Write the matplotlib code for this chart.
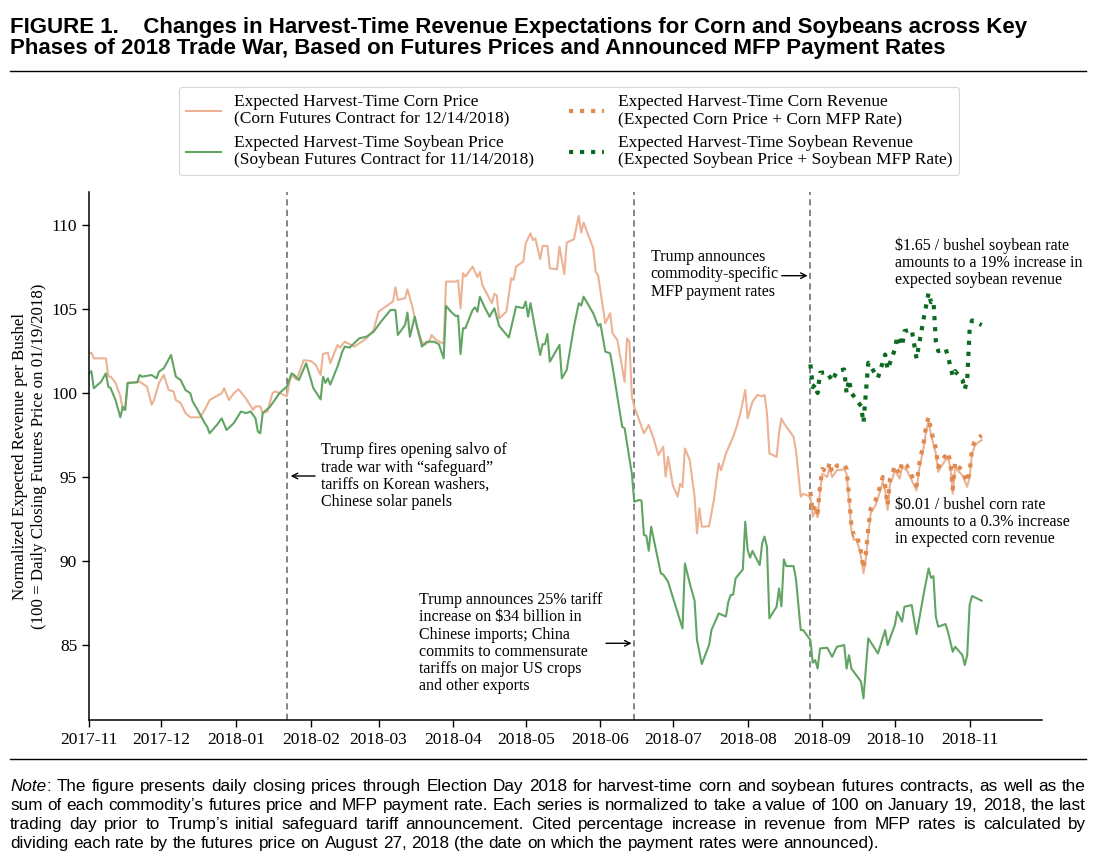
import matplotlib
matplotlib.use("Agg")
import matplotlib.pyplot as plt
import matplotlib.dates as mdates
from matplotlib.lines import Line2D
import pandas as pd

# ---- data (normalised, 100 = close on 2018-01-19) ----
corn_dates = [
    "2017-11-01", "2017-11-02", "2017-11-03", "2017-11-08", "2017-11-09", "2017-11-10", "2017-11-12",
    "2017-11-14", "2017-11-15", "2017-11-16", "2017-11-17", "2017-11-22", "2017-11-25", "2017-11-27",
    "2017-11-28", "2017-11-30", "2017-12-02", "2017-12-04", "2017-12-06", "2017-12-07", "2017-12-09",
    "2017-12-11", "2017-12-13", "2017-12-17", "2017-12-19", "2017-12-21", "2017-12-26", "2017-12-27",
    "2017-12-29", "2017-12-31", "2018-01-02", "2018-01-05", "2018-01-08", "2018-01-09", "2018-01-11",
    "2018-01-12", "2018-01-14", "2018-01-16", "2018-01-17", "2018-01-19", "2018-01-22", "2018-01-23",
    "2018-01-24", "2018-01-26", "2018-01-27", "2018-01-29", "2018-02-01", "2018-02-03", "2018-02-05",
    "2018-02-06", "2018-02-08", "2018-02-09", "2018-02-12", "2018-02-13", "2018-02-15", "2018-02-19",
    "2018-02-22", "2018-02-24", "2018-02-27", "2018-03-01", "2018-03-02", "2018-03-06", "2018-03-07",
    "2018-03-08", "2018-03-09", "2018-03-12", "2018-03-13", "2018-03-15", "2018-03-17", "2018-03-19",
    "2018-03-20", "2018-03-22", "2018-03-23", "2018-03-25", "2018-03-28", "2018-03-29", "2018-04-02",
    "2018-04-03", "2018-04-04", "2018-04-05", "2018-04-06", "2018-04-09", "2018-04-11", "2018-04-12",
    "2018-04-13", "2018-04-17", "2018-04-18", "2018-04-19", "2018-04-20", "2018-04-23", "2018-04-25",
    "2018-04-26", "2018-04-27", "2018-04-30", "2018-05-01", "2018-05-03", "2018-05-04", "2018-05-05",
    "2018-05-07", "2018-05-08", "2018-05-10", "2018-05-11", "2018-05-14", "2018-05-15", "2018-05-17",
    "2018-05-18", "2018-05-21", "2018-05-23", "2018-05-24", "2018-05-25", "2018-05-29", "2018-05-30",
    "2018-05-31", "2018-06-03", "2018-06-05", "2018-06-06", "2018-06-08", "2018-06-11", "2018-06-12",
    "2018-06-13", "2018-06-14", "2018-06-15", "2018-06-17", "2018-06-19", "2018-06-21", "2018-06-23",
    "2018-06-25", "2018-06-27", "2018-06-28", "2018-06-29", "2018-07-01", "2018-07-03", "2018-07-04",
    "2018-07-05", "2018-07-06", "2018-07-08", "2018-07-10", "2018-07-11", "2018-07-12", "2018-07-13",
    "2018-07-16", "2018-07-18", "2018-07-20", "2018-07-21", "2018-07-23", "2018-07-26", "2018-07-27",
    "2018-07-29", "2018-07-31", "2018-08-01", "2018-08-03", "2018-08-05", "2018-08-07", "2018-08-08",
    "2018-08-09", "2018-08-10", "2018-08-13", "2018-08-14", "2018-08-15", "2018-08-16", "2018-08-20",
    "2018-08-21", "2018-08-23", "2018-08-24", "2018-08-27", "2018-08-28", "2018-08-29", "2018-08-30",
    "2018-08-31", "2018-09-01", "2018-09-03", "2018-09-04", "2018-09-05", "2018-09-07", "2018-09-10",
    "2018-09-11", "2018-09-12", "2018-09-13", "2018-09-14", "2018-09-15", "2018-09-16", "2018-09-17",
    "2018-09-18", "2018-09-19", "2018-09-20", "2018-09-21", "2018-09-23", "2018-09-25", "2018-09-26",
    "2018-09-27", "2018-09-28", "2018-09-29", "2018-09-30", "2018-10-01", "2018-10-03", "2018-10-04",
    "2018-10-06", "2018-10-08", "2018-10-10", "2018-10-11", "2018-10-13", "2018-10-14", "2018-10-15",
    "2018-10-16", "2018-10-18", "2018-10-19", "2018-10-21", "2018-10-23", "2018-10-24", "2018-10-25",
    "2018-10-26", "2018-10-27", "2018-10-29", "2018-10-31", "2018-11-01", "2018-11-02", "2018-11-03",
    "2018-11-04", "2018-11-06",
]
corn_price = [
    102.36, 102.4, 102.06, 102.06, 101.0, 100.97, 100.6,
    99.8, 99.0, 99.0, 100.6, 100.67, 100.38, 99.3,
    99.6, 100.6, 101.07, 100.18, 100.1, 99.58, 99.4,
    98.8, 98.55, 98.55, 99.0, 99.58, 99.98, 100.28,
    99.58, 99.98, 100.22, 99.68, 99.0, 99.2, 99.2,
    98.8, 98.9, 99.98, 100.1, 100.0, 99.8, 100.6,
    101.07, 100.8, 101.17, 101.95, 101.9, 101.67, 101.07,
    102.32, 102.4, 101.77, 102.86, 102.7, 103.05, 102.76,
    103.05, 103.25, 103.75, 104.84, 104.94, 105.34, 105.44,
    106.29, 105.54, 105.64, 106.17, 105.14, 103.85, 103.05,
    102.86, 103.05, 103.45, 103.15, 102.92, 106.63, 106.63,
    106.7, 105.04, 107.12, 106.93, 107.52, 106.9, 107.2,
    106.43, 105.34, 105.9, 105.8, 104.44, 104.84, 106.83,
    106.73, 107.52, 107.82, 108.91, 109.5, 109.1, 109.2,
    107.96, 108.75, 108.75, 107.42, 107.36, 108.71, 107.08,
    108.95, 109.15, 110.54, 109.54, 110.14, 108.61, 107.22,
    107.0, 104.15, 104.74, 103.55, 103.15, 100.67, 103.25,
    103.05, 99.78, 99.18, 98.4, 97.6, 98.1, 97.3,
    96.3, 96.8, 95.02, 96.2, 94.5, 93.83, 94.6,
    94.4, 96.7, 96.0, 93.83, 91.65, 93.14, 92.04,
    92.07, 93.63, 95.81, 95.4, 96.4, 97.4, 97.8,
    98.8, 100.18, 98.49, 99.48, 99.88, 99.8, 99.88,
    98.8, 96.4, 96.2, 97.6, 98.49, 98.2, 97.4,
    96.6, 93.83, 94.0, 93.83, 92.64, 93.0, 92.6,
    94.2, 95.2, 95.0, 95.6, 95.0, 95.4, 95.46,
    95.2, 93.63, 91.85, 91.25, 91.3, 90.85, 90.26,
    89.27, 90.16, 91.65, 92.84, 93.33, 94.2, 94.72,
    94.2, 93.04, 94.6, 94.9, 95.4, 94.9, 95.6,
    95.4, 94.8, 94.2, 95.4, 96.8, 97.8, 98.29,
    97.5, 96.41, 95.31, 95.8, 96.2, 95.6, 94.0,
    95.6, 95.4, 95.1, 94.42, 95.0, 96.41, 96.8,
    97.0, 97.2,
]

soy_dates = [
    "2017-11-01", "2017-11-02", "2017-11-03", "2017-11-06", "2017-11-08", "2017-11-09", "2017-11-10",
    "2017-11-12", "2017-11-14", "2017-11-15", "2017-11-16", "2017-11-17", "2017-11-21", "2017-11-22",
    "2017-11-23", "2017-11-27", "2017-11-29", "2017-11-30", "2017-12-02", "2017-12-05", "2017-12-07",
    "2017-12-09", "2017-12-11", "2017-12-13", "2017-12-14", "2017-12-16", "2017-12-19", "2017-12-20",
    "2017-12-21", "2017-12-24", "2017-12-26", "2017-12-28", "2017-12-31", "2018-01-03", "2018-01-05",
    "2018-01-07", "2018-01-09", "2018-01-10", "2018-01-11", "2018-01-12", "2018-01-15", "2018-01-17",
    "2018-01-19", "2018-01-22", "2018-01-24", "2018-01-25", "2018-01-27", "2018-01-30", "2018-02-02",
    "2018-02-05", "2018-02-06", "2018-02-07", "2018-02-08", "2018-02-09", "2018-02-12", "2018-02-14",
    "2018-02-15", "2018-02-17", "2018-02-21", "2018-02-24", "2018-02-27", "2018-03-02", "2018-03-06",
    "2018-03-08", "2018-03-09", "2018-03-12", "2018-03-13", "2018-03-14", "2018-03-16", "2018-03-19",
    "2018-03-21", "2018-03-24", "2018-03-26", "2018-03-28", "2018-03-29", "2018-03-31", "2018-04-02",
    "2018-04-03", "2018-04-04", "2018-04-05", "2018-04-06", "2018-04-09", "2018-04-10", "2018-04-11",
    "2018-04-12", "2018-04-14", "2018-04-16", "2018-04-18", "2018-04-20", "2018-04-22", "2018-04-24",
    "2018-04-25", "2018-04-27", "2018-04-30", "2018-05-01", "2018-05-02", "2018-05-03", "2018-05-05",
    "2018-05-07", "2018-05-08", "2018-05-09", "2018-05-10", "2018-05-11", "2018-05-13", "2018-05-15",
    "2018-05-16", "2018-05-18", "2018-05-21", "2018-05-23", "2018-05-24", "2018-05-25", "2018-05-29",
    "2018-05-31", "2018-06-01", "2018-06-03", "2018-06-05", "2018-06-06", "2018-06-08", "2018-06-10",
    "2018-06-11", "2018-06-14", "2018-06-15", "2018-06-17", "2018-06-18", "2018-06-19", "2018-06-20",
    "2018-06-21", "2018-06-22", "2018-06-26", "2018-06-27", "2018-06-29", "2018-07-02", "2018-07-05",
    "2018-07-06", "2018-07-08", "2018-07-10", "2018-07-11", "2018-07-13", "2018-07-16", "2018-07-17",
    "2018-07-20", "2018-07-23", "2018-07-24", "2018-07-25", "2018-07-26", "2018-07-27", "2018-07-30",
    "2018-07-31", "2018-08-01", "2018-08-02", "2018-08-03", "2018-08-06", "2018-08-07", "2018-08-08",
    "2018-08-09", "2018-08-10", "2018-08-13", "2018-08-14", "2018-08-15", "2018-08-16", "2018-08-17",
    "2018-08-20", "2018-08-21", "2018-08-23", "2018-08-24", "2018-08-27", "2018-08-28", "2018-08-29",
    "2018-08-30", "2018-08-31", "2018-09-03", "2018-09-05", "2018-09-07", "2018-09-10", "2018-09-11",
    "2018-09-12", "2018-09-13", "2018-09-17", "2018-09-18", "2018-09-20", "2018-09-24", "2018-09-27",
    "2018-09-28", "2018-10-01", "2018-10-02", "2018-10-04", "2018-10-05", "2018-10-08", "2018-10-10",
    "2018-10-13", "2018-10-15", "2018-10-16", "2018-10-17", "2018-10-18", "2018-10-19", "2018-10-22",
    "2018-10-23", "2018-10-25", "2018-10-26", "2018-10-29", "2018-10-30", "2018-10-31", "2018-11-01",
    "2018-11-02", "2018-11-06",
]
soy_price = [
    101.17, 101.3, 100.28, 100.67, 101.17, 100.38, 100.28,
    99.58, 98.55, 99.18, 99.0, 100.6, 100.63, 101.07,
    100.97, 101.07, 100.87, 101.27, 101.47, 102.26, 100.97,
    100.77, 100.18, 99.98, 99.48, 99.0, 98.2, 97.99,
    97.6, 98.1, 98.49, 97.8, 98.2, 98.9, 98.8,
    98.9, 98.49, 97.7, 97.6, 98.8, 99.18, 99.58,
    100.0, 100.38, 101.17, 101.07, 100.77, 101.77, 100.28,
    99.62, 100.97, 100.6, 100.87, 100.5, 101.57, 102.46,
    102.76, 102.7, 103.25, 103.35, 103.65, 104.24, 104.94,
    104.94, 103.45, 104.05, 104.78, 103.35, 104.54, 102.76,
    103.05, 103.05, 102.9, 102.06, 105.18, 104.84, 104.58,
    104.6, 102.32, 103.85, 103.85, 104.94, 105.1, 104.84,
    105.73, 105.1, 104.54, 105.04, 103.99, 103.65, 103.3,
    103.9, 105.14, 105.05, 105.44, 104.54, 105.35, 103.75,
    102.26, 102.9, 102.9, 103.51, 101.86, 102.36, 102.86,
    100.87, 101.37, 103.95, 105.34, 105.2, 105.73, 104.74,
    104.0, 104.1, 102.46, 102.36, 101.57, 99.78, 97.99,
    97.9, 95.2, 93.53, 93.63, 93.6, 91.55, 91.5,
    90.61, 92.04, 89.27, 89.2, 88.77, 87.38, 85.99,
    89.86, 88.67, 87.64, 85.3, 83.87, 85.0, 85.89,
    86.88, 86.7, 87.58, 87.98, 88.0, 88.97, 89.5,
    92.34, 90.66, 90.2, 90.6, 89.76, 91.05, 91.45,
    90.85, 86.59, 87.28, 88.37, 87.3, 90.1, 89.7,
    89.7, 88.97, 85.89, 85.89, 85.3, 83.95, 84.1,
    83.6, 84.8, 84.84, 84.3, 84.9, 85.0, 83.6,
    84.4, 83.6, 82.82, 81.83, 85.4, 84.5, 85.89,
    85.0, 86.19, 86.98, 86.4, 87.28, 87.38, 85.65,
    88.07, 89.56, 89.0, 89.1, 86.68, 86.09, 86.25,
    85.8, 84.6, 84.9, 84.4, 83.81, 84.4, 87.38,
    87.92, 87.64,
]

# MFP payment rates announced 2018-08-27, as a shift in normalised units
mfp_date = "2018-08-27"
corn_mfp_shift = 0.28    # $0.01 / bushel
soy_mfp_shift = 16.4     # $1.65 / bushel

event_dates = ["2018-01-22", "2018-06-15", "2018-08-27"]

month_ticks = pd.date_range("2017-11-01", "2018-11-01", freq="MS")

corn = pd.Series(corn_price, index=pd.to_datetime(corn_dates))
soy = pd.Series(soy_price, index=pd.to_datetime(soy_dates))
corn_rev = corn[corn.index >= mfp_date] + corn_mfp_shift
soy_rev = soy[soy.index >= mfp_date] + soy_mfp_shift

# ---- figure ----
SERIF = ["Liberation Serif", "DejaVu Serif"]
SANS = ["Liberation Sans", "DejaVu Sans"]
plt.rcParams["font.family"] = SERIF

W, H = 1096, 861
fig = plt.figure(figsize=(W / 100, H / 100), dpi=100)
ax = fig.add_axes([89 / W, 1 - 720 / H, (1042 - 89) / W, (720 - 192) / H])

c_corn = "#ecb294"
c_soy = "#62a463"
c_corn_rev = "#e08a52"
c_soy_rev = "#0b6a1f"

l1, = ax.plot(corn.index, corn.values, color=c_corn, lw=1.5)
l2, = ax.plot(soy.index, soy.values, color=c_soy, lw=1.5)
for d in event_dates:
    ax.axvline(pd.Timestamp(d), color="#858585", lw=1.4, ls=(0, (3.2, 2.2)), zorder=1)
l3, = ax.plot(corn_rev.index, corn_rev.values, color=c_corn_rev, lw=3, ls=":")
l4, = ax.plot(soy_rev.index, soy_rev.values, color=c_soy_rev, lw=3, ls=":")

ax.set_xlim(pd.Timestamp("2017-11-01"), pd.Timestamp("2018-12-01"))
ax.set_ylim(80.54, 111.96)
ax.set_yticks([85, 90, 95, 100, 105, 110])
ax.set_xticks(month_ticks)
ax.xaxis.set_major_formatter(mdates.DateFormatter("%Y-%m"))
ax.tick_params(labelsize=12.5, direction="out", length=5, width=1)
for s in ["top", "right"]:
    ax.spines[s].set_visible(False)
for s in ["left", "bottom"]:
    ax.spines[s].set_linewidth(1.1)
ax.set_ylabel("Normalized Expected Revenue per Bushel\n(100 = Daily Closing Futures Price on 01/19/2018)",
              fontsize=12.2, linespacing=1.25, labelpad=3)

# annotations (axes fraction, baseline of the last line)
ann_kw = dict(transform=ax.transAxes, fontsize=11.5, va="baseline", ha="left", linespacing=1.1)
ax.text(0.2431, 0.4053, "Trump fires opening salvo of\ntrade war with \u201csafeguard\u201d\n"
        "tariffs on Korean washers,\nChinese solar panels", **ann_kw)
ax.text(0.3463, 0.0564, "Trump announces 25% tariff\nincrease on \\$34 billion in\nChinese imports; China\n"
        "commits to commensurate\ntariffs on major US crops\nand other exports", **ann_kw)
ax.text(0.5894, 0.8036, "Trump announces\ncommodity-specific\nMFP payment rates", **ann_kw)
ax.text(0.8457, 0.8258, "\\$1.65 / bushel soybean rate\namounts to a 19% increase in\nexpected soybean revenue", **ann_kw)
ax.text(0.8457, 0.3347, "\\$0.01 / bushel corn rate\namounts to a 0.3% increase\nin expected corn revenue", **ann_kw)

arrow = dict(arrowstyle="->", color="black", lw=1.0, shrinkA=0, shrinkB=0)
ax.annotate("", xy=(0.2116, 0.4621), xytext=(0.2372, 0.4621), xycoords="axes fraction", arrowprops=arrow)
ax.annotate("", xy=(0.5694, 0.1453), xytext=(0.5425, 0.1453), xycoords="axes fraction", arrowprops=arrow)
ax.annotate("", xy=(0.7541, 0.8415), xytext=(0.7268, 0.8415), xycoords="axes fraction", arrowprops=arrow)

# legend
labels = ["Expected Harvest-Time Corn Price\n(Corn Futures Contract for 12/14/2018)",
          "Expected Harvest-Time Soybean Price\n(Soybean Futures Contract for 11/14/2018)",
          "Expected Harvest-Time Corn Revenue\n(Expected Corn Price + Corn MFP Rate)",
          "Expected Harvest-Time Soybean Revenue\n(Expected Soybean Price + Soybean MFP Rate)"]
leg = fig.legend([l1, l2, l3, l4], labels, ncol=2, loc="upper center",
                 bbox_to_anchor=(569 / W, 1 - 87 / H), borderaxespad=0, fontsize=12.5,
                 frameon=True, handlelength=2.0, handletextpad=0.8, columnspacing=2.0,
                 borderpad=0.4, labelspacing=0.4)
leg.get_frame().set_edgecolor("#cccccc")
leg.get_frame().set_linewidth(0.8)
for t in leg.get_texts():
    t.set_linespacing(1.15)

# title and rules
title_kw = dict(family=SANS, fontsize=16, weight="bold", va="center")
fig.text(10 / W, 1 - 28 / H,
         "FIGURE 1.    Changes in Harvest-Time Revenue Expectations for Corn and Soybeans across Key", **title_kw)
fig.text(10 / W, 1 - 48.5 / H,
         "Phases of 2018 Trade War, Based on Futures Prices and Announced MFP Payment Rates", **title_kw)
for yy in (70.5, 758.5):
    fig.add_artist(Line2D([10 / W, 1086 / W], [1 - yy / H] * 2, color="black", lw=1.0))

# note, justified between x_left and x_right except for the last line
note_lines = [
    "The figure presents daily closing prices through Election Day 2018 for harvest-time corn and soybean futures contracts, as well as the",
    "sum of each commodity\u2019s futures price and MFP payment rate. Each series is normalized to take a value of 100 on January 19, 2018, the last",
    "trading day prior to Trump\u2019s initial safeguard tariff announcement. Cited percentage increase in revenue from MFP rates is calculated by",
    "dividing each rate by the futures price on August 27, 2018 (the date on which the payment rates were announced).",
]
renderer = fig.canvas.get_renderer()
x_left, x_right = 10, 1086


def text_width(s, **kw):
    t = fig.text(0, 0, s, **kw)
    w = t.get_window_extent(renderer).width
    t.remove()
    return w


# pick the size so the widest justified line just fits
base = dict(family=SANS, fontsize=12.0)
widest = max(text_width("Note: " + note_lines[0], **base),
             *[text_width(s, **base) for s in note_lines[1:3]])
note_size = 12.0 * (x_right - x_left) / widest * 0.995
note_kw = dict(family=SANS, fontsize=note_size, va="center", ha="left")
space_w = text_width("a a", **note_kw) - 2 * text_width("a", **note_kw)

for i, line in enumerate(note_lines):
    y = 1 - (786.5 + 19 * i) / H
    words = line.split(" ")
    widths = [text_width(w, **note_kw) for w in words]
    x = x_left
    if i == 0:
        fig.text(x / W, y, "Note", style="italic", **note_kw)
        x += text_width("Note", style="italic", **note_kw)
        fig.text(x / W, y, ":", **note_kw)
        x += text_width(":", **note_kw)
        n_gaps = len(words)
    else:
        n_gaps = len(words) - 1
    if i < len(note_lines) - 1:
        gap = (x_right - x - sum(widths)) / n_gaps
    else:
        gap = space_w
    if i == 0:
        x += gap
    for w, wd in zip(words, widths):
        fig.text(x / W, y, w, **note_kw)
        x += wd + gap

fig.savefig("out.png", dpi=100)
